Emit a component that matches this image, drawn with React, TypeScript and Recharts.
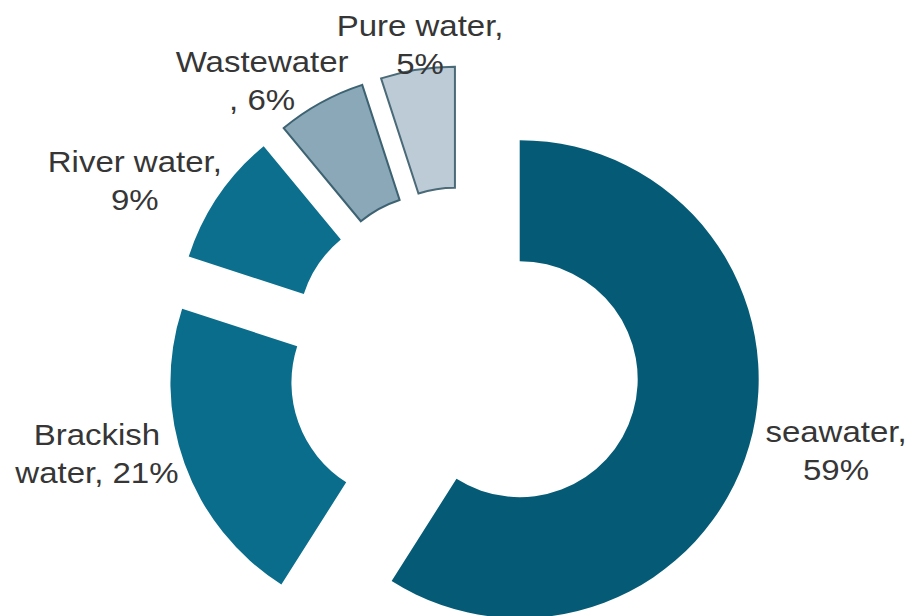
import { PieChart, Pie, Cell, Sector } from "recharts"

// water sources, share in %
const CATEGORIES = ["seawater", "Brackish water", "River water", "Wastewater", "Pure water"]
const SHARES = [59, 21, 9, 6, 5]
const LABEL_LINES = [
    ["seawater,", "59%"],
    ["Brackish", "water, 21%"],
    ["River water,", "9%"],
    ["Wastewater", ", 6%"],
    ["Pure water,", "5%"],
]

const FILLS = ["#055b75", "#0a6d8b", "#0b6f8d", "#8aa8b8", "#bccbd6"]
const STROKES = ["none", "none", "none", "#3d6272", "#4a6a78"]
// hand placed label tweaks, like the dragged labels in the original
const LABEL_NUDGE = [
    [22, -15],
    [-14, -37],
    [-17, 29],
    [-30, 30],
    [8, 9],
]

const RAD = Math.PI / 180
const EXPLODE = 58
const LABEL_RADIUS = 288
const FONT_SIZE = 30
const STRETCH = 1.1
const LINE_GAP = 38
const FONT = "'Liberation Sans', Arial, sans-serif"

const chartData = CATEGORIES.map((name, i) => ({ name, value: SHARES[i] }))

let ctx: CanvasRenderingContext2D | null = null
function textWidth(s: string) {
    if (!ctx) ctx = document.createElement("canvas").getContext("2d")
    if (!ctx) return s.length * FONT_SIZE * 0.55
    ctx.font = `${FONT_SIZE}px ${FONT}`
    return ctx.measureText(s).width
}

function ExplodedSector(props: any) {
    const { cx, cy, midAngle } = props
    const dx = EXPLODE * Math.cos(-midAngle * RAD)
    const dy = EXPLODE * Math.sin(-midAngle * RAD)
    return <Sector {...props} cx={cx + dx} cy={cy + dy} />
}

function renderLabel(props: any) {
    const { cx, cy, midAngle, index } = props
    const ux = Math.cos(-midAngle * RAD)
    const uy = Math.sin(-midAngle * RAD)
    const lines = LABEL_LINES[index]
    const halfW = (Math.max(...lines.map(textWidth)) * STRETCH) / 2
    const halfH = 31
    const dist = LABEL_RADIUS + Math.abs(ux) * halfW + Math.abs(uy) * halfH
    const x = cx + ux * dist + LABEL_NUDGE[index][0]
    const y = cy + uy * dist + LABEL_NUDGE[index][1]
    return (
        <g>
            {lines.map((line, i) => (
                <text
                    key={i}
                    transform={`translate(${x},${y - 8 + i * LINE_GAP}) scale(${STRETCH},1)`}
                    textAnchor="middle"
                    fontFamily={FONT}
                    fontSize={FONT_SIZE}
                    fill="#363636"
                >
                    {line}
                </text>
            ))}
        </g>
    )
}

export default function App() {
    return (
        <div style={{ position: "absolute", left: 0, top: 0, width: 914, height: 616, background: "#fff" }}>
            <PieChart width={914} height={616} margin={{ top: 0, right: 0, bottom: 0, left: 0 }}>
                <Pie
                    data={chartData}
                    dataKey="value"
                    nameKey="name"
                    cx={464}
                    cy={363}
                    innerRadius={118}
                    outerRadius={239}
                    startAngle={90}
                    endAngle={-270}
                    shape={ExplodedSector}
                    label={renderLabel}
                    labelLine={false}
                    isAnimationActive={false}
                >
                    {chartData.map((entry, i) => (
                        <Cell key={entry.name} fill={FILLS[i]} stroke={STROKES[i]} strokeWidth={2} />
                    ))}
                </Pie>
            </PieChart>
        </div>
    )
}
